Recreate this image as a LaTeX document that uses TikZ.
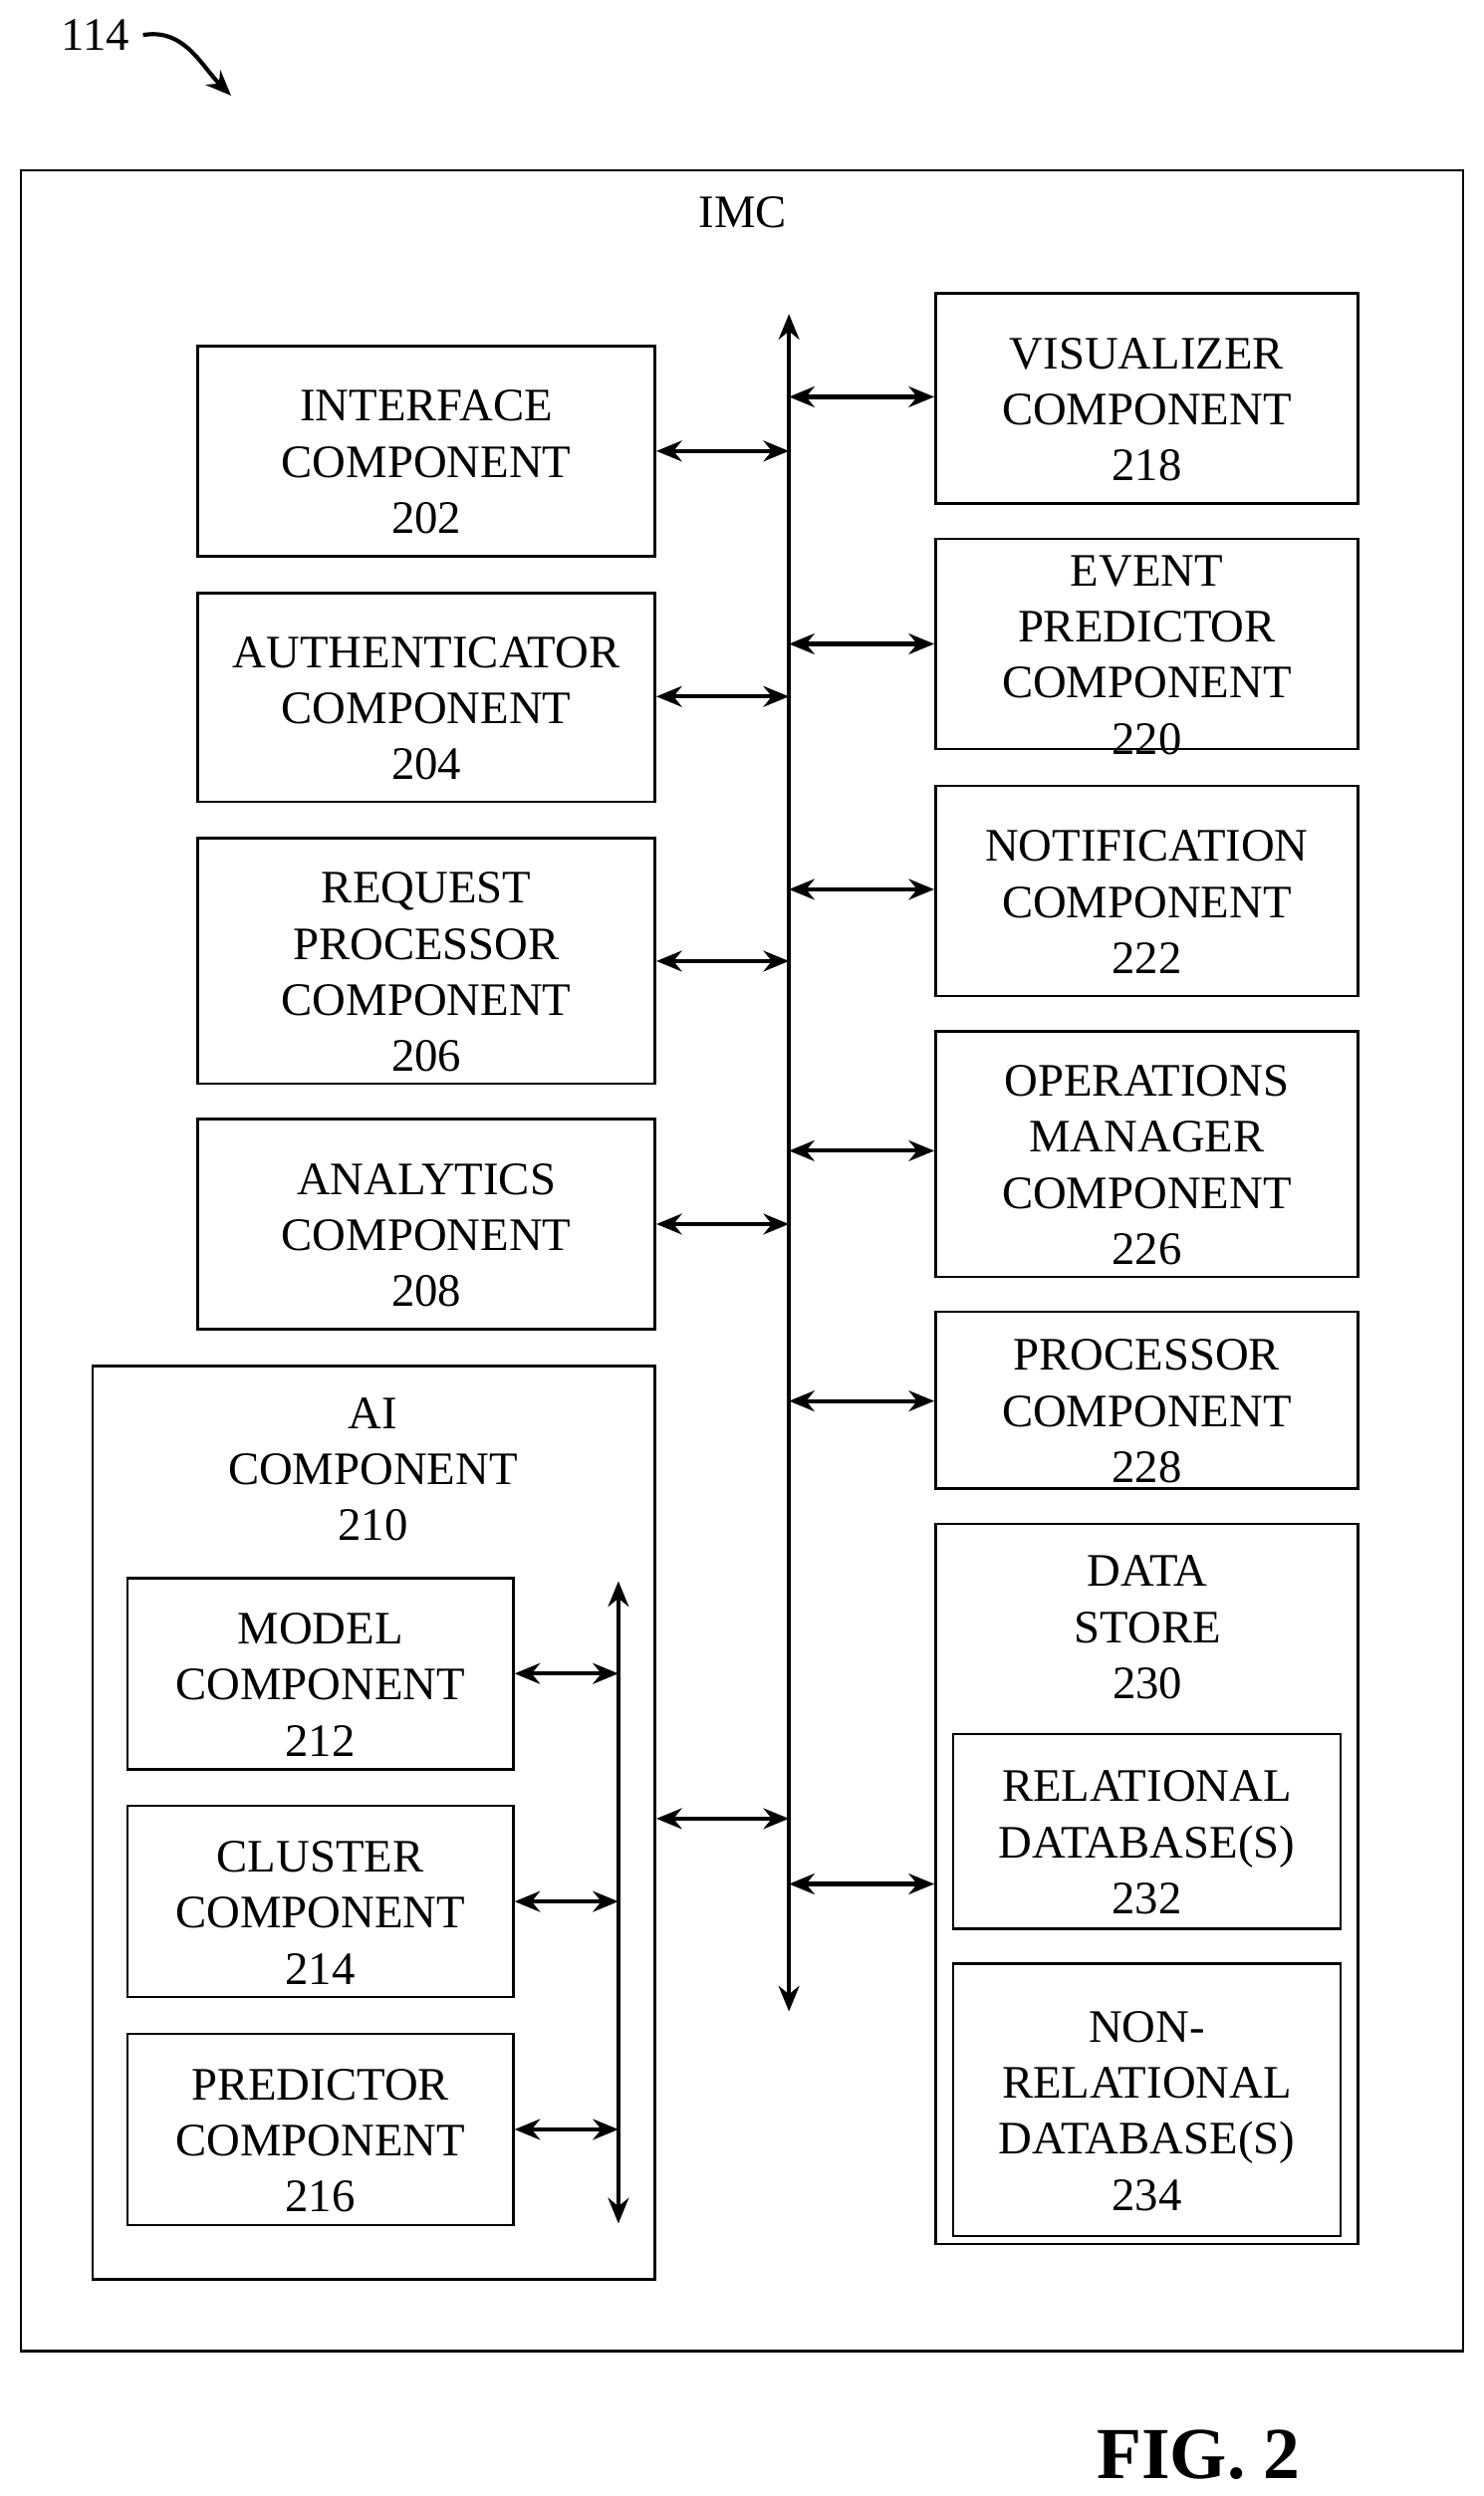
\documentclass[tikz,border=0pt]{standalone}
\usepackage{fontspec}
\setmainfont{Liberation Serif}
\usetikzlibrary{arrows,arrows.meta,positioning,fit}
\begin{document}
\begin{tikzpicture}[x=0.5pt,y=-0.5pt,>={Stealth[length=8pt,width=6.5pt]},
    box/.style={draw,line width=0.8pt,inner sep=0pt},
    txt/.style={align=center,inner sep=0pt,font=\fontsize{14.6}{17.6}\selectfont},
    lbl/.style={label={[txt,yshift=-3.5pt]center:{#1}}},
    link/.style={<->,line width=1.3pt}]
        \useasboundingbox (0,0) rectangle (931,1566);
        % outer frame
        \node[box,fit={(13,107) (918,1475)}] (imc) {};
        \node[txt] (imc-t) at (466,133) {IMC};

        % main bus
        \coordinate (busT) at (495,197);
        \coordinate (busB) at (495,1262);
        \draw[link] (busT) -- (busB);

        % left column
        \node[box,fit={(124,217) (411,349)},lbl={INTERFACE\\COMPONENT\\202}] (c202) {};
        \node[box,fit={(124,372) (411,503)},lbl={AUTHENTICATOR\\COMPONENT\\204}] (c204) {};
        \node[box,fit={(124,526) (411,680)},lbl={REQUEST\\PROCESSOR\\COMPONENT\\206}] (c206) {};
        \node[box,fit={(124,702) (411,834)},lbl={ANALYTICS\\COMPONENT\\208}] (c208) {};
        \node[box,fit={(58,857) (411,1430)}] (c210) {};
        \node[txt] (c210-t) at (234,922) {AI\\COMPONENT\\210};

        % right column
        \node[box,fit={(587,184) (852,316)},lbl={VISUALIZER\\COMPONENT\\218}] (c218) {};
        \node[box,fit={(587,338) (852,470)},lbl={EVENT\\PREDICTOR\\COMPONENT\\220}] (c220) {};
        \node[box,fit={(587,493) (852,625)},lbl={NOTIFICATION\\COMPONENT\\222}] (c222) {};
        \node[box,fit={(587,647) (852,801)},lbl={OPERATIONS\\MANAGER\\COMPONENT\\226}] (c226) {};
        \node[box,fit={(587,823) (852,934)},lbl={PROCESSOR\\COMPONENT\\228}] (c228) {};
        \node[box,fit={(587,956) (852,1408)}] (c230) {};
        \node[txt] (c230-t) at (720,1021) {DATA\\STORE\\230};
        \node[box,fit={(598,1088) (841,1210)},lbl={RELATIONAL\\DATABASE(S)\\232}] (c232) {};
        \node[box,fit={(598,1232) (841,1403)},lbl={NON-\\RELATIONAL\\DATABASE(S)\\234}] (c234) {};

        % links to the bus
        \foreach \n/\y in {202/283,204/437,206/603,208/768,210/1141}{
            \draw[link] (c\n.east |- 0,\y) -- (busT |- 0,\y);
        }
        \foreach \n/\y in {218/249,220/404,222/558,226/722,228/879,230/1182}{
            \draw[link] (busT |- 0,\y) -- (c\n.west |- 0,\y);
        }

        % AI inner bus
        \coordinate (aiT) at (388,992);
        \coordinate (aiB) at (388,1395);
        \draw[link] (aiT) -- (aiB);
        \node[box,fit={(80,990) (322,1110)},lbl={MODEL\\COMPONENT\\212}] (c212) {};
        \node[box,fit={(80,1133) (322,1253)},lbl={CLUSTER\\COMPONENT\\214}] (c214) {};
        \node[box,fit={(80,1276) (322,1396)},lbl={PREDICTOR\\COMPONENT\\216}] (c216) {};
        \foreach \n/\y in {212/1050,214/1193,216/1336}{
            \draw[link] (c\n.east |- 0,\y) -- (aiT |- 0,\y);
        }

        % reference numeral and figure title
        \node[txt] (ref) at (60,22) {114};
        \coordinate (refE) at (145,60);
        \draw[->,line width=1.3pt] (ref.east) ++(8,0) to[out=10,in=135] (refE);
        \node[txt,font=\bfseries\fontsize{23}{26}\selectfont] (fig) at (752,1540) {FIG. 2};
\end{tikzpicture}
\end{document}
